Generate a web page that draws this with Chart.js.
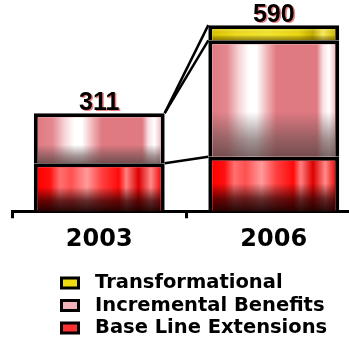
<!DOCTYPE html>
<html lang="en">
<head>
<meta charset="UTF-8" />
<title>Benefits 2003 / 2006</title>
<script src="https://cdn.jsdelivr.net/npm/chart.js"></script>
<style>
  html, body { margin: 0; padding: 0; background: #fff; overflow: hidden; }
  canvas { display: block; }
</style>
</head>
<body>
<!-- the axis runs on past the right edge of the window -->
<canvas id="benefitChart" width="361" height="352"></canvas>
<script>
  const years = ['2003', '2006'];
  const baseLine = [152, 173];
  const incremental = [159, 369];
  const transformational = [null, 48];
  const totals = [311, 590];

  // shading for each segment type: vertical light/dark bands across the bar, darker foot
  const baseLook = {
    bands: [[0, '#ff0000'], [0.10, '#ff1010'], [0.18, '#ff7070'], [0.27, '#ff5050'], [0.40, '#ff9a9a'],
            [0.52, '#ff4040'], [0.66, '#ff0a0a'], [0.72, '#ff8080'], [0.82, '#dd0000'], [0.92, '#ff8a8a'], [1, '#ee1010']],
    foot: [[0, 'rgba(40,0,0,0)'], [0.45, 'rgba(40,0,0,0)'], [0.75, 'rgba(40,0,0,0.7)'], [1, 'rgba(20,0,0,0.92)']]
  };
  const incrementalLook = {
    bands: [[0, '#e07a82'], [0.12, '#e48890'], [0.22, '#f6d6d8'], [0.30, '#ffffff'], [0.36, '#ffffff'], [0.44, '#f0b8bc'],
            [0.52, '#e07a82'], [0.85, '#e07a82'], [0.90, '#f8e0e2'], [0.95, '#ffffff'], [1, '#f0c0c4']],
    foot: [[0, 'rgba(90,70,70,0)'], [0.6, 'rgba(90,70,70,0)'], [0.85, 'rgba(100,75,75,0.6)'], [1, 'rgba(90,65,65,0.8)']]
  };
  const transformLook = {
    bands: [[0, '#e0c800'], [0.2, '#f4e020'], [0.45, '#f8ea30'], [0.7, '#f0dc10'], [0.82, '#c8b000'], [0.9, '#fff060'], [1, '#d8c000']],
    foot: [[0, 'rgba(255,255,200,0.2)'], [0.5, 'rgba(0,0,0,0)'], [1, 'rgba(90,70,0,0.6)']]
  };
  const looks = [baseLook, incrementalLook, transformLook];
  const BORDER = 4;

  const segmentShading = {
    id: 'segmentShading',
    afterDatasetDraw(chart, args) {
      const look = looks[args.index];
      const values = chart.data.datasets[args.index].data;
      const ctx = chart.ctx;
      args.meta.data.forEach((el, j) => {
        if (values[j] == null) return;
        const {x, y, base, width} = el.getProps(['x', 'y', 'base', 'width'], true);
        const left = x - width / 2 + BORDER, right = x + width / 2 - BORDER;
        const top = y + BORDER, bottom = base;
        if (bottom <= top) return;
        ctx.save();
        ctx.beginPath();
        ctx.rect(left, top, right - left, bottom - top);
        ctx.clip();
        const h = ctx.createLinearGradient(left, 0, right, 0);
        look.bands.forEach(([p, c]) => h.addColorStop(p, c));
        ctx.fillStyle = h;
        ctx.fillRect(left, top, right - left, bottom - top);
        const v = ctx.createLinearGradient(0, top, 0, bottom);
        look.foot.forEach(([p, c]) => v.addColorStop(p, c));
        ctx.fillStyle = v;
        ctx.fillRect(left, top, right - left, bottom - top);
        ctx.restore();
      });
    }
  };

  // lines joining the 2003 bar to the 2006 bar
  const connectors = {
    id: 'connectors',
    afterDatasetsDraw(chart) {
      const ctx = chart.ctx;
      const bar = (ds, i) => chart.getDatasetMeta(ds).data[i];
      const pairs = [
        [bar(1, 0), bar(2, 1)],
        [bar(1, 0), bar(1, 1)],
        [bar(0, 0), bar(0, 1)]
      ];
      ctx.save();
      ctx.strokeStyle = '#000';
      ctx.lineWidth = 2.5;
      pairs.forEach(([a, b]) => {
        ctx.beginPath();
        ctx.moveTo(a.x + a.width / 2, a.y);
        ctx.lineTo(b.x - b.width / 2, b.y);
        ctx.stroke();
      });
      ctx.restore();
    }
  };

  const totalLabels = {
    id: 'totalLabels',
    afterDatasetsDraw(chart) {
      const {ctx, scales: {x, y}} = chart;
      ctx.save();
      ctx.font = 'bold 25px "Liberation Sans", Arial, sans-serif';
      ctx.textAlign = 'center';
      ctx.textBaseline = 'alphabetic';
      ctx.fillStyle = '#000';
      ctx.shadowColor = 'rgba(235,70,70,0.7)';
      ctx.shadowOffsetX = 1.5;
      ctx.shadowOffsetY = 1;
      totals.forEach((t, i) => ctx.fillText(String(t), x.getPixelForValue(i), y.getPixelForValue(t) - 3));
      ctx.restore();
    }
  };

  // legend rows start under the first bar instead of the far left
  const legendIndent = {
    id: 'legendIndent',
    afterLayout(chart) {
      chart.legend.left = chart.chartArea.left + 46.5;
    }
  };

  const legendFont = { family: 'DejaVu Sans', size: 19.5, weight: 'bold' };

  new Chart(document.getElementById('benefitChart'), {
    type: 'bar',
    data: {
      labels: years,
      datasets: [
        { label: 'Base Line Extensions', data: baseLine, backgroundColor: '#ff3030' },
        { label: 'Incremental Benefits', data: incremental, backgroundColor: '#f2b2b8' },
        { label: 'Transformational', data: transformational, backgroundColor: '#efdc10' }
      ]
    },
    options: {
      responsive: false,
      animation: false,
      devicePixelRatio: 1,
      datasets: {
        bar: {
          borderColor: '#000',
          borderWidth: BORDER,
          borderSkipped: 'start',
          categoryPercentage: 1,
          barPercentage: 0.75
        }
      },
      layout: { padding: { top: 22, left: 12, right: 0, bottom: 4.25 } },
      scales: {
        x: {
          stacked: true,
          z: 1,
          border: { color: '#000', width: 3 },
          grid: { offset: true, drawOnChartArea: false, tickLength: 7, tickWidth: 3, tickColor: '#000' },
          ticks: { color: '#000', padding: 7, font: { family: 'DejaVu Sans', size: 24, weight: 'bold' } },
          afterFit(scale) { scale.height = 59; }
        },
        y: { stacked: true, display: false, min: 0, max: 600 }
      },
      plugins: {
        tooltip: { enabled: false },
        legend: {
          position: 'bottom',
          align: 'start',
          reverse: true,
          labels: {
            color: '#000',
            font: legendFont,
            boxWidth: 17,
            boxHeight: 10,
            padding: 3,
            generateLabels(chart) {
              return Chart.defaults.plugins.legend.labels.generateLabels(chart)
                .map(item => ({ ...item, text: ' ' + item.text, lineWidth: 3, strokeStyle: '#000' }));
            }
          }
        }
      }
    },
    plugins: [segmentShading, connectors, totalLabels, legendIndent]
  });
</script>
</body>
</html>
